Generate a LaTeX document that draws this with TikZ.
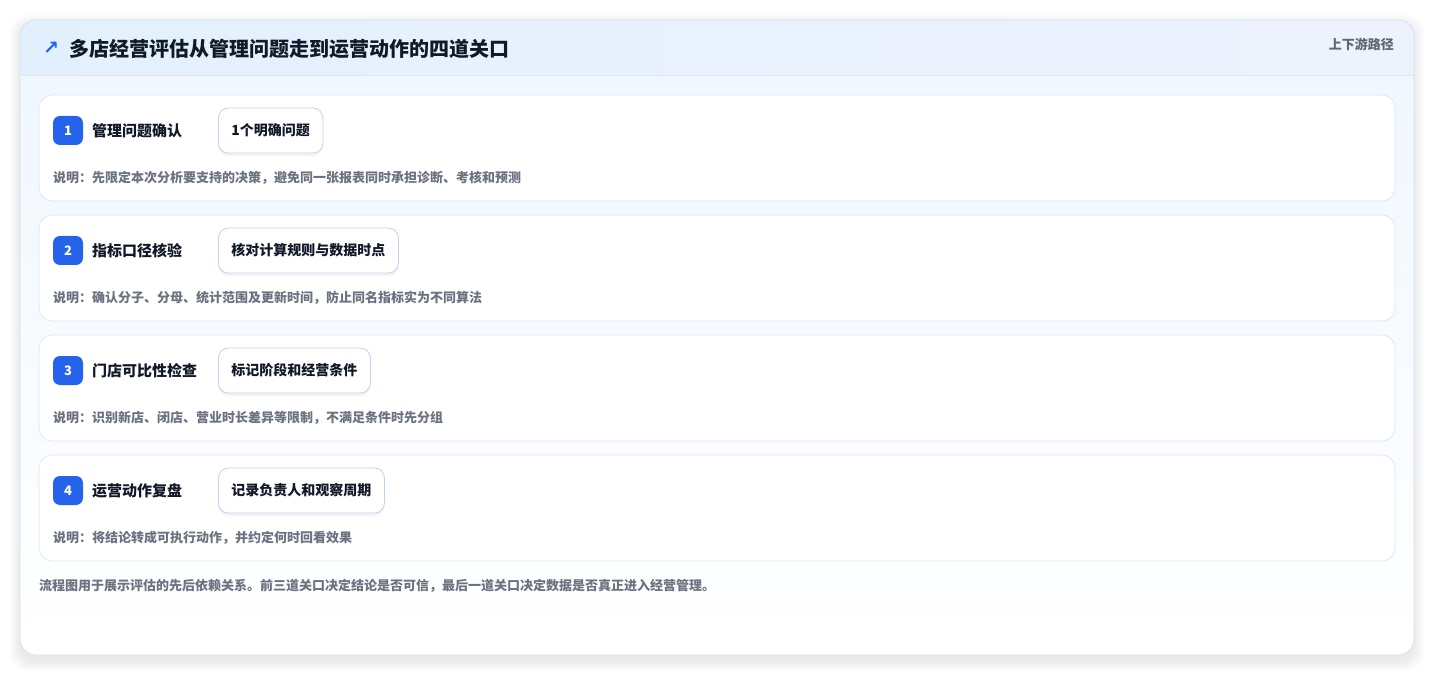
\documentclass[tikz,border=0pt]{standalone}
\usepackage{fontspec}
\setmainfont{Noto Sans CJK SC}
\newfontfamily\symfont{DejaVu Sans}
\usetikzlibrary{shadows}

\definecolor{cardline}{HTML}{CFE2F3}
\definecolor{headleft}{HTML}{E2F0FD}
\definecolor{headright}{HTML}{EEF2FD}
\definecolor{bodytop}{HTML}{F0F7FE}
\definecolor{rowline}{HTML}{DCE8F4}
\definecolor{badgeblue}{HTML}{2563EB}
\definecolor{tagline}{HTML}{BFD4EE}
\definecolor{inktext}{HTML}{111827}
\definecolor{greytext}{HTML}{6B7280}

\tikzset{
  rowbox/.style={draw=rowline, fill=white, rounded corners=13pt, line width=0.8pt},
  badge/.style={fill=badgeblue, rounded corners=7pt, minimum width=30pt, minimum height=29pt,
    inner sep=0pt, text=white, font=\bfseries\fontsize{13}{13}\selectfont},
  steplabel/.style={anchor=west, inner sep=0pt, text=inktext, font=\bfseries\fontsize{15}{15}\selectfont},
  tagbox/.style={draw=tagline, fill=white, rounded corners=10pt, minimum height=45pt, inner xsep=13pt,
    line width=0.8pt, anchor=west, text=inktext, font=\bfseries\fontsize{14}{14}\selectfont,
    drop shadow={shadow xshift=0pt, shadow yshift=-3pt, opacity=0.05, fill=badgeblue!40!black}},
  note/.style={anchor=west, inner sep=0pt, text=greytext, font=\bfseries\fontsize{13}{13}\selectfont},
}

\begin{document}
\begin{tikzpicture}[x=1pt, y=-1pt]
            \useasboundingbox (0, 0) rectangle (1435, 676);

            % card shadow
            \foreach \s in {1,...,10}
                \fill[black, opacity=0.006, rounded corners=18pt] (20-\s, 24-\s) rectangle (1414+\s, 661+\s);

            % card
            \fill[white, rounded corners=16pt] (20, 20) rectangle (1414, 655);
            \begin{scope}
                \clip[rounded corners=16pt] (20, 20) rectangle (1414, 655);
                \shade[top color=bodytop, bottom color=white] (20, 75) rectangle (1414, 655);
                \shade[left color=headleft, right color=headright] (20, 20) rectangle (1414, 75);
                \draw[draw=rowline] (20, 75) -- (1414, 75);
            \end{scope}
            \draw[cardline, line width=0.8pt, rounded corners=16pt] (20, 20) rectangle (1414, 655);

            % header
            \node[text=badgeblue, font=\symfont\bfseries\fontsize{19}{19}\selectfont] (icon) at (51, 48) {↗};
            \node[anchor=west, inner sep=0pt, text=inktext, font=\bfseries\fontsize{20}{20}\selectfont]
                (title) at (69, 49) {多店经营评估从管理问题走到运营动作的四道关口};
            \node[anchor=east, inner sep=0pt, text=greytext!90!black, font=\bfseries\fontsize{13}{13}\selectfont]
                (route) at (1394, 44) {上下游路径};

            % gate 1
            \draw[rowbox] (39, 95) rectangle (1395, 201);
            \node[badge] (b1) at (68, 130.5) {1};
            \node[steplabel] (s1) at (92, 131) {管理问题确认};
            \node[tagbox] (t1) at (218, 130.5) {1个明确问题};
            \node[note] (n1) at (53, 178) {说明：先限定本次分析要支持的决策，避免同一张报表同时承担诊断、考核和预测};

            % gate 2
            \draw[rowbox] (39, 215) rectangle (1395, 321);
            \node[badge] (b2) at (68, 250.5) {2};
            \node[steplabel] (s2) at (92, 251) {指标口径核验};
            \node[tagbox] (t2) at (218, 250.5) {核对计算规则与数据时点};
            \node[note] (n2) at (53, 298) {说明：确认分子、分母、统计范围及更新时间，防止同名指标实为不同算法};

            % gate 3
            \draw[rowbox] (39, 335) rectangle (1395, 441);
            \node[badge] (b3) at (68, 370.5) {3};
            \node[steplabel] (s3) at (92, 371) {门店可比性检查};
            \node[tagbox] (t3) at (218, 370.5) {标记阶段和经营条件};
            \node[note] (n3) at (53, 418) {说明：识别新店、闭店、营业时长差异等限制，不满足条件时先分组};

            % gate 4
            \draw[rowbox] (39, 455) rectangle (1395, 561);
            \node[badge] (b4) at (68, 490.5) {4};
            \node[steplabel] (s4) at (92, 491) {运营动作复盘};
            \node[tagbox] (t4) at (218, 490.5) {记录负责人和观察周期};
            \node[note] (n4) at (53, 538) {说明：将结论转成可执行动作，并约定何时回看效果};

            % footer
            \node[note] (foot) at (39, 586) {流程图用于展示评估的先后依赖关系。前三道关口决定结论是否可信，最后一道关口决定数据是否真正进入经营管理。};
        \end{tikzpicture}
\end{document}
